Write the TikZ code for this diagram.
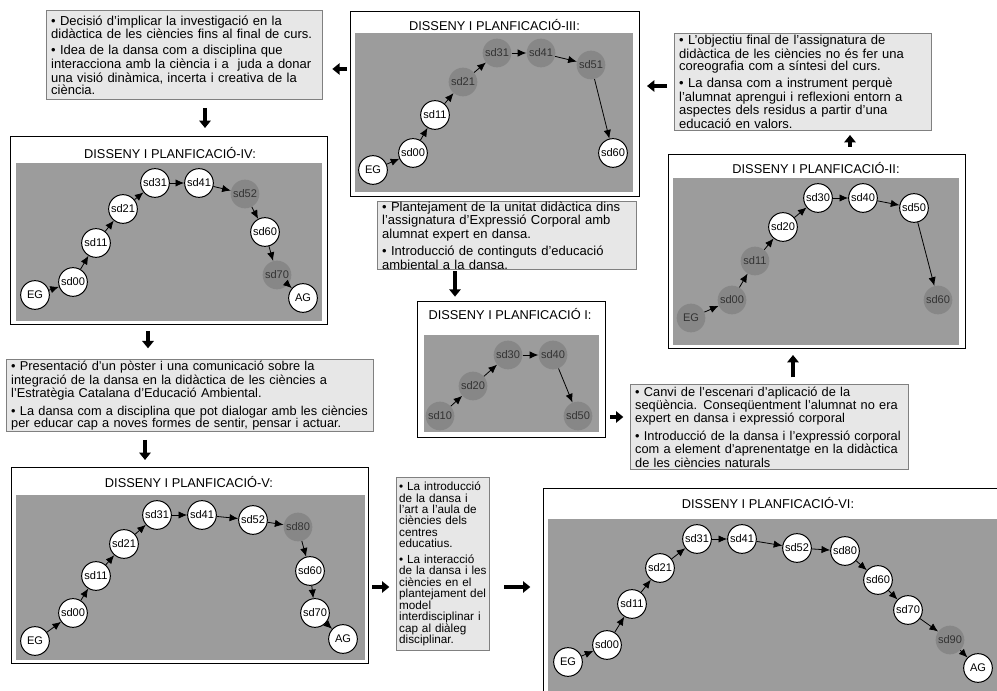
\documentclass[tikz,border=0pt]{standalone}
\usepackage{fontspec}
\setmainfont{Liberation Sans}
\usetikzlibrary{arrows.meta}
\definecolor{fieldgray}{HTML}{9C9C9C}
\definecolor{stepgray}{HTML}{878787}
\definecolor{notefill}{HTML}{E7E7E7}
\definecolor{noteline}{HTML}{808080}
\begin{document}
\begin{tikzpicture}[x=0.75pt,y=-0.75pt,
  panelframe/.style={draw=black, line width=0.75pt, fill=white, anchor=north west, inner sep=0pt, outer sep=0pt},
  panelfield/.style={fill=fieldgray, anchor=north west, inner sep=0pt, outer sep=0pt},
  paneltitle/.style={font=\fontsize{9.6}{11}\selectfont, inner sep=0pt},
  whitestep/.style={circle, draw=black, line width=0.75pt, fill=white, minimum size=21.5pt, inner sep=0pt, font=\fontsize{8.3}{9}\selectfont},
  graystep/.style={circle, fill=stepgray, minimum size=21.5pt, inner sep=0pt, text=black!80, font=\fontsize{8.3}{9}\selectfont},
  steplink/.style={-{Latex[length=6.5pt,width=5.5pt]}, line width=0.6pt, black},
  textnote/.style={draw=noteline, line width=0.75pt, fill=notefill, anchor=north west, inner xsep=3.5pt, inner ysep=0pt, align=left, font=\fontsize{9.75}{9}\selectfont},
  bigarrow/.style={-{Triangle[length=5.5pt,width=8.5pt]}, line width=2.8pt},
]
\useasboundingbox (0,0) rectangle (997,691);

% ---------- text notes ----------
\node[textnote, text width=200.25pt, minimum height=66.75pt] (nA) at (46,10) {%
• Decisió d’implicar la investigació en la\\
didàctica de les ciències fins al final de curs.\\[3pt]
• Idea de la dansa com a disciplina que\\
interacciona amb la ciència i a\ \ juda a donar\\
una visió dinàmica, incerta i creativa de la\\
ciència.};

\node[textnote, text width=185.5pt, minimum height=72.75pt] (nB) at (674,33) {%
• L’objectiu final de l’assignatura de\\
didàctica de les ciències no és fer una\\
coreografia com a síntesi del curs.\\[3pt]
• La dansa com a instrument perquè\\
l’alumnat aprengui i reflexioni entorn a\\
aspectes dels residus a partir d’una\\
educació en valors.};

\node[textnote, text width=187.25pt, minimum height=51pt] (nC) at (377,201) {%
• Plantejament de la unitat didàctica dins\\
l’assignatura d’Expressió Corporal amb\\
alumnat expert en dansa.\\[3pt]
• Introducció de continguts d’educació\\
ambiental a la dansa.};

\node[textnote, font=\fontsize{9.6}{9}\selectfont, text width=268.25pt, minimum height=54pt] (nD) at (6,359) {%
• Presentació d’un pòster i una comunicació sobre la\\
integració de la dansa en la didàctica de les ciències a\\
l’Estratègia Catalana d’Educació Ambiental.\\[3pt]
• La dansa com a disciplina que pot dialogar amb les ciències\\
per educar cap a noves formes de sentir, pensar i actuar.};

\node[textnote, font=\fontsize{9.6}{9}\selectfont, text width=201.5pt, minimum height=63.75pt] (nE) at (630,384) {%
• Canvi de l’escenari d’aplicació de la\\
seqüència. Conseqüentment l’alumnat no era\\
expert en dansa i expressió corporal\\[3pt]
• Introducció de la dansa i l’expressió corporal\\
com a element d’aprenentatge en la didàctica\\
de les ciències naturals};

\node[textnote, font=\fontsize{8.8}{8.6}\selectfont, inner xsep=2pt, text width=65.75pt, minimum height=129.75pt] (nF) at (396,477) {%
• La introducció\\
de la dansa i\\
l’art a l’aula de\\
ciències dels\\
centres\\
educatius.\\[3pt]
• La interacció\\
de la dansa i les\\
ciències en el\\
plantejament del\\
model\\
interdisciplinar i\\
cap al diàleg\\
disciplinar.};

% ---------- panel III ----------
\node[panelframe, minimum width=216.75pt, minimum height=138.75pt] (P3) at (350,12) {};
\node[panelfield, minimum width=208.5pt, minimum height=119.25pt] (G3) at (355,33) {};
\node[paneltitle] (T3) at (494.5,25) {DISSENY I PLANFICACIÓ-III:};
\node[whitestep] (c3eg) at (373,170) {EG};
\node[whitestep] (c3s00) at (413,153) {sd00};
\node[whitestep] (c3s11) at (435,115) {sd11};
\node[graystep] (c3s21) at (463,82) {sd21};
\node[graystep] (c3s31) at (497,53) {sd31};
\node[graystep] (c3s41) at (541,53) {sd41};
\node[graystep] (c3s51) at (591,65) {sd51};
\node[whitestep] (c3s60) at (613,153) {sd60};
\foreach \a/\b in {c3eg/c3s00, c3s00/c3s11, c3s11/c3s21, c3s21/c3s31, c3s31/c3s41, c3s41/c3s51, c3s51/c3s60}
  \draw[steplink] (\a) -- (\b);

% ---------- panel IV ----------
\node[panelframe, minimum width=237.75pt, minimum height=141pt] (P4) at (10,137) {};
\node[panelfield, minimum width=229.5pt, minimum height=118.5pt] (G4) at (16,163) {};
\node[paneltitle] (T4) at (170,153) {DISSENY I PLANFICACIÓ-IV:};
\node[whitestep] (c4eg) at (35,295) {EG};
\node[whitestep] (c4s00) at (73,282) {sd00};
\node[whitestep] (c4s11) at (96,243) {sd11};
\node[whitestep] (c4s21) at (123,209) {sd21};
\node[whitestep] (c4s31) at (155,183) {sd31};
\node[whitestep] (c4s41) at (199,183) {sd41};
\node[graystep] (c4s52) at (245,194) {sd52};
\node[whitestep] (c4s60) at (265,232) {sd60};
\node[graystep] (c4s70) at (277,275) {sd70};
\node[whitestep] (c4ag) at (303,298) {AG};
\foreach \a/\b in {c4eg/c4s00, c4s00/c4s11, c4s11/c4s21, c4s21/c4s31, c4s31/c4s41, c4s41/c4s52, c4s52/c4s60, c4s60/c4s70, c4s70/c4ag}
  \draw[steplink] (\a) -- (\b);

% ---------- panel II ----------
\node[panelframe, minimum width=222.75pt, minimum height=145.5pt] (P2) at (668,155) {};
\node[panelfield, minimum width=214.5pt, minimum height=125.25pt] (G2) at (673,178) {};
\node[paneltitle] (T2) at (816,168) {DISSENY I PLANFICACIÓ-II:};
\node[graystep] (c2eg) at (691,318) {EG};
\node[graystep] (c2s00) at (732,300) {sd00};
\node[graystep] (c2s11) at (755,261) {sd11};
\node[whitestep] (c2s20) at (783,227) {sd20};
\node[whitestep] (c2s30) at (818,198) {sd30};
\node[whitestep] (c2s40) at (863,198) {sd40};
\node[whitestep] (c2s50) at (914,208) {sd50};
\node[graystep] (c2s60) at (938,300) {sd60};
\foreach \a/\b in {c2eg/c2s00, c2s00/c2s11, c2s11/c2s20, c2s20/c2s30, c2s30/c2s40, c2s40/c2s50, c2s50/c2s60}
  \draw[steplink] (\a) -- (\b);

% ---------- panel I ----------
\node[panelframe, minimum width=141pt, minimum height=102pt] (P1) at (417,302) {};
\node[panelfield, minimum width=131.25pt, minimum height=72.75pt] (G1) at (424,335) {};
\node[paneltitle] (T1) at (510,314) {DISSENY I PLANFICACIÓ I:};
\node[graystep] (c1s10) at (440,416) {sd10};
\node[graystep] (c1s20) at (473,386) {sd20};
\node[graystep] (c1s30) at (508,355) {sd30};
\node[graystep] (c1s40) at (553,355) {sd40};
\node[graystep] (c1s50) at (578,416) {sd50};
\foreach \a/\b in {c1s10/c1s20, c1s20/c1s30, c1s30/c1s40, c1s40/c1s50}
  \draw[steplink] (\a) -- (\b);

% ---------- panel V ----------
\node[panelframe, minimum width=267.75pt, minimum height=146.25pt] (P5) at (11,468) {};
\node[panelfield, minimum width=261.75pt, minimum height=123.75pt] (G5) at (16,495) {};
\node[paneltitle] (T5) at (189,482) {DISSENY I PLANFICACIÓ-V:};
\node[whitestep] (c5eg) at (35,641) {EG};
\node[whitestep] (c5s00) at (73,613) {sd00};
\node[whitestep] (c5s11) at (96,576) {sd11};
\node[whitestep] (c5s21) at (124,544) {sd21};
\node[whitestep] (c5s31) at (157,515) {sd31};
\node[whitestep] (c5s41) at (202,515) {sd41};
\node[whitestep] (c5s52) at (253,520) {sd52};
\node[graystep] (c5s80) at (298,527) {sd80};
\node[whitestep] (c5s60) at (310,571) {sd60};
\node[whitestep] (c5s70) at (315,613) {sd70};
\node[whitestep] (c5ag) at (343,639) {AG};
\foreach \a/\b in {c5eg/c5s00, c5s00/c5s11, c5s11/c5s21, c5s21/c5s31, c5s31/c5s41, c5s41/c5s52, c5s52/c5s80, c5s80/c5s60, c5s60/c5s70, c5s70/c5ag}
  \draw[steplink] (\a) -- (\b);

% ---------- panel VI ----------
\node[panelframe, minimum width=345pt, minimum height=157.5pt] (P6) at (543,489) {};
\node[panelfield, minimum width=339pt, minimum height=131.25pt] (G6) at (548,519) {};
\node[paneltitle] (T6) at (768,503) {DISSENY I PLANFICACIÓ-VI:};
\node[whitestep] (c6eg) at (568,662) {EG};
\node[whitestep] (c6s00) at (607,645) {sd00};
\node[whitestep] (c6s11) at (632,604) {sd11};
\node[whitestep] (c6s21) at (660,568) {sd21};
\node[whitestep] (c6s31) at (697,539) {sd31};
\node[whitestep] (c6s41) at (742,539) {sd41};
\node[whitestep] (c6s52) at (797,548) {sd52};
\node[whitestep] (c6s80) at (845,551) {sd80};
\node[whitestep] (c6s60) at (878,580) {sd60};
\node[whitestep] (c6s70) at (908,610) {sd70};
\node[graystep] (c6s90) at (950,640) {sd90};
\node[whitestep] (c6ag) at (978,668) {AG};
\foreach \a/\b in {c6eg/c6s00, c6s00/c6s11, c6s11/c6s21, c6s21/c6s31, c6s31/c6s41, c6s41/c6s52, c6s52/c6s80, c6s80/c6s60, c6s60/c6s70, c6s70/c6s90, c6s90/c6ag}
  \draw[steplink] (\a) -- (\b);

% ---------- flow between stages ----------
\draw[bigarrow, shorten <=1pt, shorten >=4pt] (nC.south -| 455,0) -- (P1.north -| 455,0);
\draw[bigarrow, shorten <=3.75pt, shorten >=5pt] (P1.east |- 0,417) -- (nE.west |- 0,417);
\draw[bigarrow, shorten <=5pt, shorten >=4.5pt] (nE.north -| 793,0) -- (P2.south -| 793,0);
\draw[bigarrow, shorten <=6pt, shorten >=3pt] (P2.north -| 850,0) -- (nB.south -| 850,0);
\draw[bigarrow, shorten <=5.25pt, shorten >=6pt] (nB.west |- 0,86) -- (P3.east |- 0,86);
\draw[bigarrow, shorten <=2.25pt, shorten >=6.75pt] (P3.west |- 0,69) -- (nA.east |- 0,69);
\draw[bigarrow, shorten <=6pt, shorten >=6.75pt] (nA.south -| 205,0) -- (P4.north -| 205,0);
\draw[bigarrow, shorten <=4.5pt, shorten >=8pt] (P4.south -| 148,0) -- (nD.north -| 148,0);
\draw[bigarrow, shorten <=6pt, shorten >=6pt] (nD.south -| 145,0) -- (P5.north -| 145,0);
\draw[bigarrow, shorten <=3pt, shorten >=5pt] (P5.east |- 0,587) -- (nF.west |- 0,587);
\draw[bigarrow, shorten <=10.5pt, shorten >=9.5pt] (nF.east |- 0,587) -- (P6.west |- 0,587);
\end{tikzpicture}
\end{document}
